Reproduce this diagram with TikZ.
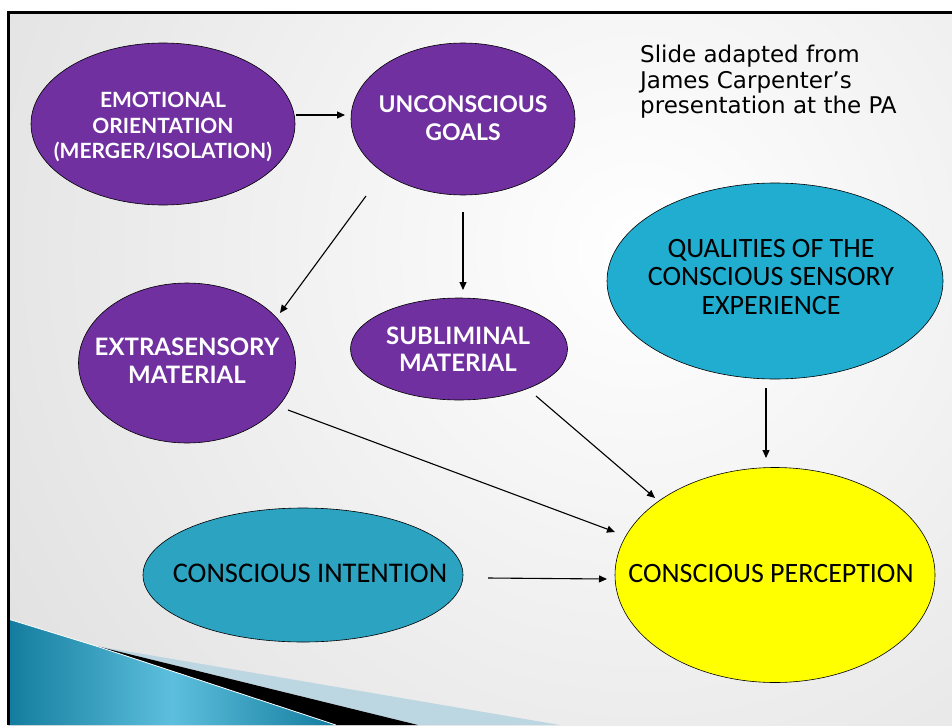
\documentclass[tikz,border=0pt]{standalone}
\usepackage{fontspec}
\setmainfont{Carlito}
\newfontfamily\latofont{Lato}
\newfontfamily\notefont{DejaVu Sans}
\usetikzlibrary{shapes.geometric,arrows.meta,calc}
\definecolor{purp}{HTML}{7030A0}
\definecolor{qualc}{HTML}{20ADD0}
\definecolor{cic}{HTML}{2BA3C1}
\definecolor{yel}{HTML}{FFFF00}
\definecolor{teal1}{HTML}{137C9E}
\definecolor{teal2}{HTML}{5DBFDD}
\definecolor{lightband}{HTML}{BCD6E2}
\tikzset{
  ell/.style={ellipse, draw=black, line width=0.6pt, inner sep=0pt},
  ptxt/.style={text=white, align=center, inner sep=0pt},
  btxt/.style={text=black, align=center, inner sep=0pt},
  arr/.style={-{Triangle[length=8pt,width=7pt]}, line width=1.1pt, black},
}
\begin{document}
\begin{tikzpicture}[x=1pt,y=-1pt]
\useasboundingbox (0,0) rectangle (952,725);
\fill[white] (0,0) rectangle (952,725);
% background
\begin{scope}
\clip (8,12) rectangle (952,725);
\fill[gray!28] (8,12) rectangle (952,725);
\shade[inner color=white, outer color=gray!28] (640,250) circle (900);
% swoosh
\fill[lightband] (96,646) -- (560,725) -- (418,725) -- cycle;
\fill[black] (96,646) -- (418,725) -- (336,725) -- cycle;
\shade[shading angle=-70, left color=teal1, right color=teal1, middle color=teal2]
  (8,619) -- (96,646) -- (336,725) -- (8,725) -- cycle;
\draw[white, line width=0.8pt] (8,619) -- (96,646) -- (336,725);
\end{scope}
\draw[black, line width=3pt] (8.5,725) -- (8.5,12.5) -- (952,12.5);

% ellipses
\node[ell, fill=purp, minimum width=264pt, minimum height=162pt] (eo) at (163,124) {};
\node[ell, fill=purp, minimum width=224pt, minimum height=152pt] (ug) at (463,119) {};
\node[ell, fill=purp, minimum width=217pt, minimum height=160pt] (ext) at (187,363) {};
\node[ell, fill=purp, minimum width=217pt, minimum height=102pt] (sub) at (459,349) {};
\node[ell, fill=qualc, minimum width=336pt, minimum height=196pt] (qual) at (775,281) {};
\node[ell, fill=cic, minimum width=320pt, minimum height=134pt] (ci) at (303,575) {};
\node[ell, fill=yel, minimum width=320pt, minimum height=215pt] (cp) at (775,575) {};

% texts
\node[ptxt, font=\latofont\bfseries\fontsize{21}{25.5}\selectfont] (eo-t) at (163,127)
  {EMOTIONAL\\ORIENTATION\\(MERGER/ISOLATION)};
\node[ptxt, font=\latofont\bfseries\fontsize{23}{28}\selectfont] (ug-t) at (463,118)
  {UNCONSCIOUS\\GOALS};
\node[ptxt, font=\latofont\bfseries\fontsize{24}{28}\selectfont] (ext-t) at (187,361)
  {EXTRASENSORY\\MATERIAL};
\node[ptxt, font=\latofont\bfseries\fontsize{24}{27}\selectfont] (sub-t) at (458,349)
  {SUBLIMINAL\\MATERIAL};
\node[btxt, font=\fontsize{28}{28.5}\selectfont] (qual-t) at (771,277)
  {QUALITIES OF THE\\CONSCIOUS SENSORY\\EXPERIENCE};
\node[btxt, font=\fontsize{28.5}{28}\selectfont] (ci-t) at (310,573) {CONSCIOUS INTENTION};
\node[btxt, font=\fontsize{28}{28}\selectfont] (cp-t) at (771,574) {CONSCIOUS PERCEPTION};
\node[anchor=north west, align=left, inner sep=0pt, font=\notefont\fontsize{23}{25.5}\selectfont] (note) at (640,45)
  {Slide adapted from\\James Carpenter’s\\presentation at the PA};

% connectors
\draw[arr] ($(eo)+(133,-9)$) -- ($(ug)+(-118,-4)$);
\draw[arr] ($(ug)+(-97,77)$) -- ($(ext)+(93,-50)$);
\draw[arr] ($(ug)+(0,93)$) -- ($(sub)+(4,-59)$);
\draw[arr] ($(qual)+(-9,107)$) -- ($(cp)+(-9,-117)$);
\draw[arr] ($(ext)+(101,47)$) -- ($(cp)+(-160,-43)$);
\draw[arr] ($(sub)+(77,47)$) -- ($(cp)+(-120,-77)$);
\draw[arr] ($(ci)+(185,3)$) -- ($(cp)+(-168,4)$);
\end{tikzpicture}
\end{document}
